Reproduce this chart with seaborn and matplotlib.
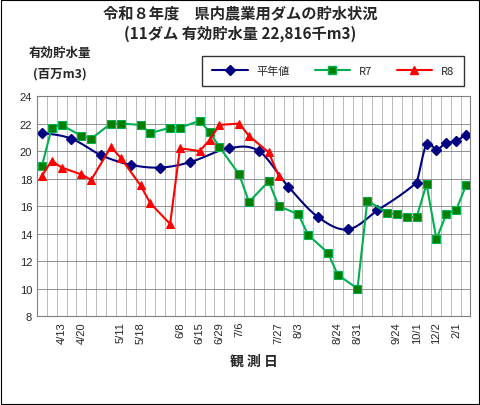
import numpy as np
import matplotlib
matplotlib.use('Agg')
import matplotlib.pyplot as plt
import seaborn as sns
import pandas as pd
from matplotlib.lines import Line2D

sns.set_style('white')
plt.rcParams['font.family'] = ['Noto Sans CJK JP', 'DejaVu Sans']

# observation slots (x index) and values
normal_x = [0, 3, 6, 9, 12, 15, 19, 22, 25, 28, 31, 34, 38, 39, 40, 41, 42, 43]
normal_y = [21.3, 20.9, 19.7, 19.0, 18.8, 19.2, 20.2, 20.0, 17.4, 15.2, 14.3, 15.7,
            17.7, 20.5, 20.1, 20.6, 20.7, 21.2]
r7_x = [0, 1, 2, 4, 5, 7, 8, 10, 11, 13, 14, 16, 17, 18, 20, 21, 23, 24, 26, 27,
        29, 30, 32, 33, 35, 36, 37, 38, 39, 40, 41, 42, 43]
r7_y = [18.9, 21.7, 21.9, 21.1, 20.9, 22.0, 22.0, 21.9, 21.3, 21.7, 21.7, 22.2, 21.4,
        20.3, 18.3, 16.3, 17.8, 16.0, 15.4, 13.9, 12.6, 11.0, 10.0, 16.4, 15.5, 15.4,
        15.2, 15.2, 17.6, 13.6, 15.4, 15.7, 17.5]
r8_x = [0, 1, 2, 4, 5, 7, 8, 10, 11, 13, 14, 16, 17, 18, 20, 21, 23, 24]
r8_y = [18.2, 19.3, 18.8, 18.3, 17.9, 20.3, 19.5, 17.5, 16.2, 14.7, 20.2, 20.0, 20.8,
        21.9, 22.0, 21.1, 19.9, 18.2]
tick_pos = [2, 4, 8, 10, 14, 16, 18, 20, 24, 26, 30, 32, 36, 38, 40, 42]
tick_labels = ['4/13', '4/20', '5/11', '5/18', '6/8', '6/15', '6/29', '7/6', '7/27',
               '8/3', '8/24', '8/31', '9/24', '10/1', '12/2', '2/1']

fig = plt.figure(figsize=(4.8, 4.06), dpi=100)
fig.patches.append(plt.Rectangle((0.002, 0.002), 0.996, 0.996, transform=fig.transFigure,
                                 fill=False, edgecolor='black', linewidth=0.8))
ax = fig.add_axes([0.077, 0.219, 0.902, 0.542])

# smooth the normal-year curve for display (cubic through the points)
nx = np.array(normal_x, float)
ny = np.array(normal_y, float)
xs, ys = [], []
for i in range(len(nx) - 1):
    p0 = ny[max(i - 1, 0)]; p1 = ny[i]; p2 = ny[i + 1]; p3 = ny[min(i + 2, len(ny) - 1)]
    t = np.linspace(0, 1, 12)
    seg = 0.5 * ((2 * p1) + (-p0 + p2) * t + (2 * p0 - 5 * p1 + 4 * p2 - p3) * t ** 2
                 + (-p0 + 3 * p1 - 3 * p2 + p3) * t ** 3)
    xs.extend(nx[i] + (nx[i + 1] - nx[i]) * t)
    ys.extend(seg)
smooth = pd.DataFrame({'x': xs, 'y': ys})
sns.lineplot(data=smooth, x='x', y='y', ax=ax, color='#000080', linewidth=1.5, sort=False)
ax.plot(normal_x, normal_y, linestyle='none', marker='D', color='#000080', markersize=5)

df7 = pd.DataFrame({'x': r7_x, 'y': r7_y})
df8 = pd.DataFrame({'x': r8_x, 'y': r8_y})
sns.lineplot(data=df7, x='x', y='y', ax=ax, color='#00B050', linewidth=1.5, marker='s',
             markersize=6, markerfacecolor='#008000', markeredgecolor='#00B050')
sns.lineplot(data=df8, x='x', y='y', ax=ax, color='red', linewidth=1.5, marker='^',
             markersize=6, markeredgecolor='red')

ax.set_xlim(-0.5, 43.4)
ax.set_ylim(8, 24)
ax.set_yticks(range(8, 25, 2))
ax.set_xticks(tick_pos)
ax.set_xticklabels(tick_labels, rotation=90, fontsize=8, family='Liberation Sans')
ax.set_xticks(np.arange(-0.5, 43.5, 1), minor=True)
ax.tick_params(axis='y', labelsize=8, length=0)
ax.tick_params(axis='x', which='both', length=0)
for lab in ax.get_yticklabels():
    lab.set_family('Liberation Sans')
ax.grid(axis='x', which='minor', color='#b0b0b0', linewidth=0.6)
ax.grid(axis='y', which='major', color='#808080', linewidth=0.6)
ax.set_axisbelow(True)
for s in ax.spines.values():
    s.set_color('#808080')
ax.set_xlabel('観 測 日', fontsize=10, fontweight='bold', labelpad=8)
ax.set_ylabel('')

handles = [Line2D([], [], color='#000080', marker='D', markersize=5, linewidth=1.5),
           Line2D([], [], color='#00B050', marker='s', markersize=6, markerfacecolor='#008000', linewidth=1.5),
           Line2D([], [], color='red', marker='^', markersize=6, linewidth=1.5)]
ax.legend(handles, ['平年値', 'R7', 'R8'], ncol=3, loc='lower right',
          bbox_to_anchor=(1.0, 1.02), frameon=True, fancybox=False, edgecolor='black',
          fontsize=8, handlelength=3.2, columnspacing=2.2, borderpad=0.9)

fig.text(0.5, 0.955, '令和８年度　県内農業用ダムの貯水状況', ha='center', fontsize=11, fontweight='bold')
fig.text(0.5, 0.905, '(11ダム 有効貯水量 22,816千m3)', ha='center', fontsize=11, fontweight='bold')
fig.text(0.125, 0.86, '有効貯水量', ha='center', fontsize=9, fontweight='bold')
fig.text(0.125, 0.81, '(百万m3)', ha='center', fontsize=9, fontweight='bold')

fig.savefig('out.png', dpi=100)
